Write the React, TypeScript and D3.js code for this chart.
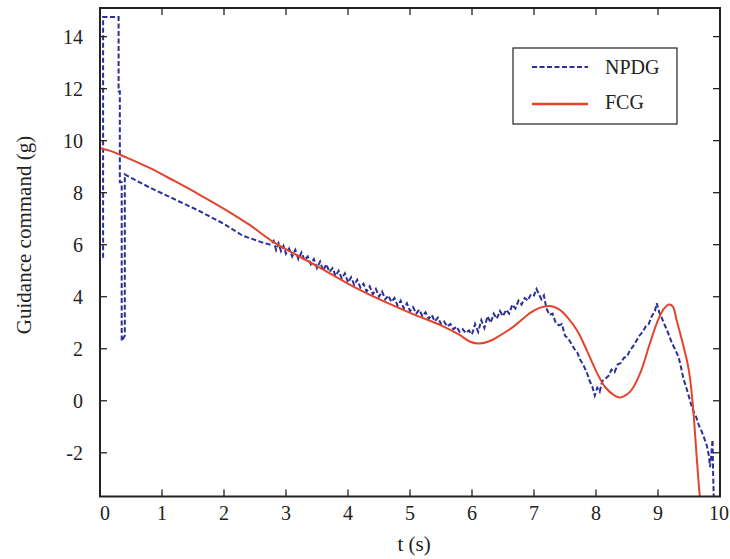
import React from "react";
import * as d3 from "d3";

const W = 730;
const H = 559;

const xTicks = [0, 1, 2, 3, 4, 5, 6, 7, 8, 9, 10];
const yTicks = [-2, 0, 2, 4, 6, 8, 10, 12, 14];
const seriesNames = ["NPDG", "FCG"];

// FCG: [t, g]
const fcgT = [0, 0.2, 0.4, 0.8, 1.2, 1.6, 2.0, 2.42, 2.8, 3.5, 4.19, 5.0, 5.5, 5.8, 5.97, 6.12, 6.29, 6.4, 6.67, 6.94, 7.1, 7.26, 7.4, 7.55, 7.7, 7.85, 8.0, 8.15, 8.3, 8.39, 8.55, 8.71, 8.87, 9.0, 9.1, 9.18, 9.24, 9.3, 9.4, 9.48, 9.52, 9.57, 9.62, 9.67, 9.7];
const fcgV = [9.71, 9.58, 9.38, 8.95, 8.45, 7.93, 7.38, 6.75, 6.1, 5.18, 4.26, 3.38, 2.9, 2.53, 2.27, 2.2, 2.3, 2.44, 2.85, 3.38, 3.58, 3.64, 3.52, 3.18, 2.68, 1.95, 1.15, 0.52, 0.2, 0.13, 0.35, 1.05, 2.21, 3.1, 3.55, 3.7, 3.62, 3.1, 2.2, 1.4, 0.8, -0.4, -2.02, -3.56, -4.2];

// NPDG: [t, g]
const npdgT = [0.05, 0.05, 0.3, 0.3, 0.32, 0.32, 0.35, 0.35, 0.4, 0.4, 0.8, 1.2, 1.6, 2.0, 2.3, 2.6, 2.75,
  2.8, 2.84, 2.88, 2.92, 2.96, 3.0, 3.05, 3.1, 3.15, 3.2, 3.25, 3.3, 3.35, 3.4, 3.45, 3.5, 3.55, 3.6, 3.65, 3.7, 3.75, 3.8, 3.85, 3.9, 3.95,
  4.0, 4.05, 4.1, 4.15, 4.2, 4.25, 4.3, 4.35, 4.4, 4.45, 4.5, 4.55, 4.6, 4.65, 4.7, 4.75, 4.8, 4.85, 4.9, 4.95,
  5.0, 5.05, 5.1, 5.15, 5.2, 5.25, 5.3, 5.35, 5.4, 5.45, 5.5, 5.55, 5.6, 5.65, 5.7, 5.75, 5.8, 5.85, 5.9, 5.95,
  6.0, 6.05, 6.1, 6.15, 6.2, 6.25, 6.3, 6.35, 6.4, 6.45, 6.5, 6.55, 6.6, 6.65, 6.7, 6.75, 6.8, 6.85, 6.9, 6.95,
  7.0, 7.04, 7.08, 7.12, 7.16, 7.2, 7.25, 7.3, 7.35, 7.4, 7.45, 7.5, 7.55, 7.6, 7.65, 7.7, 7.74, 7.8, 7.85, 7.9, 7.94, 7.98,
  8.02, 8.06, 8.1, 8.15, 8.2, 8.25, 8.3, 8.35, 8.4, 8.45, 8.5, 8.55, 8.6, 8.65, 8.7, 8.75, 8.8, 8.85, 8.9, 8.95, 8.98,
  9.02, 9.06, 9.1, 9.14, 9.18, 9.22, 9.27, 9.33, 9.37, 9.41, 9.45, 9.5, 9.54, 9.58, 9.62, 9.66, 9.7, 9.74, 9.79, 9.82, 9.84, 9.86, 9.88, 9.89, 9.9];
const npdgV = [5.5, 14.75, 14.75, 11.9, 11.9, 8.4, 8.4, 2.3, 2.5, 8.7, 8.2, 7.75, 7.3, 6.8, 6.35, 6.1, 6.0,
  6.15, 5.8, 6.05, 5.75, 5.95, 5.65, 5.85, 5.55, 5.8, 5.45, 5.7, 5.4, 5.55, 5.25, 5.45, 5.1, 5.35, 5.0, 5.25, 4.95, 5.1, 4.8, 5.0, 4.7, 4.9,
  4.55, 4.75, 4.45, 4.65, 4.35, 4.5, 4.2, 4.4, 4.1, 4.3, 4.0, 4.2, 3.9, 4.05, 3.8, 3.95, 3.65, 3.85, 3.55, 3.75,
  3.45, 3.6, 3.35, 3.5, 3.25, 3.4, 3.15, 3.3, 3.05, 3.2, 2.95, 3.05, 2.85, 2.95, 2.75, 2.85, 2.65, 2.75, 2.6, 2.7,
  2.55, 2.95, 2.65, 3.1, 2.8, 3.25, 3.0, 3.35, 3.15, 3.45, 3.25, 3.5, 3.35, 3.7, 3.55, 3.85, 3.7, 3.95, 3.85, 4.1,
  4.05, 4.3, 4.1, 3.9, 4.05, 3.55, 3.3, 3.35, 3.0, 2.9, 2.95, 2.5, 2.4, 2.2, 2.0, 1.85, 1.6, 1.35, 1.1, 0.75, 0.55, 0.2,
  0.5, 0.35, 0.75, 0.85, 0.95, 1.2, 1.1, 1.4, 1.45, 1.65, 1.7, 1.95, 2.1, 2.3, 2.5, 2.65, 2.85, 2.95, 3.25, 3.45, 3.75,
  3.4, 3.2, 2.95, 2.75, 2.5, 2.25, 2.0, 1.7, 1.3, 0.85, 0.55, 0.15, -0.2, -0.45, -0.65, -0.95, -1.15, -1.4, -1.75, -2.1, -2.55, -2.05, -1.5, -2.9, -3.8];

const L = 100, R = 720, T = 8, B = 496.5;
const BLUE = "#2b2f96";
const RED = "#e5432c";
const FONT = "'Liberation Serif', Tinos, 'Nimbus Roman', 'Nimbus Roman No9 L', FreeSerif, 'Noto Serif', 'DejaVu Serif', 'Times New Roman', Times, serif";
const txt = { fontFamily: FONT };

export default function App() {
  const x = d3.scaleLinear().domain([0, 10]).range([L, R]);
  const y = d3.scaleLinear().domain([-3.68, 15.1]).range([B, T]);
  const line = d3.line<[number, number]>().x((d) => x(d[0])).y((d) => y(d[1]));
  const smooth = d3.line<[number, number]>().x((d) => x(d[0])).y((d) => y(d[1])).curve(d3.curveCatmullRom.alpha(0.5));
  const fcg: [number, number][] = fcgT.map((t, i) => [t, fcgV[i]]);
  const npdg: [number, number][] = npdgT.map((t, i) => [t, npdgV[i]]);
  const tk = 7;
  return (
    <svg width={W} height={H} style={{ position: "absolute", left: 0, top: 0, background: "#fff", fontFamily: FONT }}>
      <defs>
        <clipPath id="plot">
          <rect x={L} y={T} width={R - L} height={B - T} />
        </clipPath>
      </defs>
      <g clipPath="url(#plot)" fill="none">
        <path d={line(npdg) || ""} stroke={BLUE} strokeWidth={2} strokeDasharray="5,2.5" />
        <path d={smooth(fcg) || ""} stroke={RED} strokeWidth={2} />
      </g>
      <g stroke="#222" strokeWidth={1.3}>
        {xTicks.map((t) => (
          <g key={"x" + t}>
            <line x1={x(t)} x2={x(t)} y1={B} y2={B - tk} />
            <line x1={x(t)} x2={x(t)} y1={T} y2={T + tk} />
          </g>
        ))}
        {yTicks.map((v) => (
          <g key={"y" + v}>
            <line x1={L} x2={L + tk} y1={y(v)} y2={y(v)} />
            <line x1={R} x2={R - tk} y1={y(v)} y2={y(v)} />
          </g>
        ))}
      </g>
      <rect x={L} y={T} width={R - L} height={B - T} fill="none" stroke="#222" strokeWidth={2} />
      <g fontSize={20} fill="#222">
        {xTicks.map((t, i) => (
          <text key={"xl" + t} style={txt} x={i === xTicks.length - 1 ? 729 : x(t) + (i === 0 ? 5 : 0)} y={520} textAnchor={i === xTicks.length - 1 ? "end" : "middle"}>
            {t}
          </text>
        ))}
        {yTicks.map((v) => (
          <text key={"yl" + v} style={txt} x={83} y={y(v)} dy="0.35em" textAnchor="end">
            {v}
          </text>
        ))}
      </g>
      <text style={txt} x={414} y={551} fontSize={21} textAnchor="middle" fill="#222">t (s)</text>
      <text style={txt} transform={`translate(31,235) rotate(-90)`} fontSize={21} textAnchor="middle" fill="#222">
        Guidance command (g)
      </text>
      <rect x={513} y={48} width={164} height={76} fill="#fff" stroke="#222" strokeWidth={1.2} />
      <line x1={532} x2={588} y1={67} y2={67} stroke={BLUE} strokeWidth={2} strokeDasharray="5,2.5" />
      <line x1={532} x2={588} y1={104} y2={104} stroke={RED} strokeWidth={2.5} />
      <text style={txt} x={605} y={74} fontSize={20} fill="#222">{seriesNames[0]}</text>
      <text style={txt} x={605} y={109} fontSize={20} fill="#222">{seriesNames[1]}</text>
    </svg>
  );
}
